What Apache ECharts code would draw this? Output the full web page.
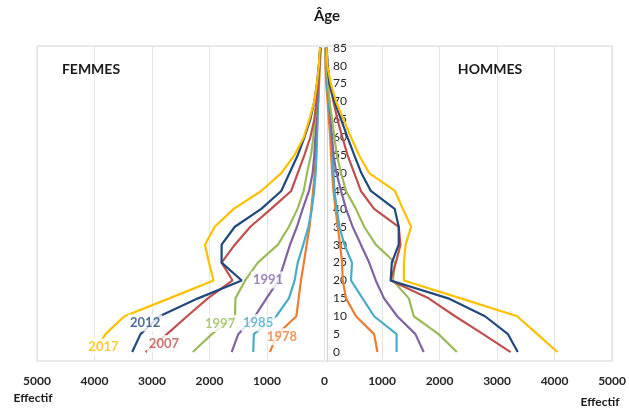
<!DOCTYPE html>
<html>
<head>
<meta charset="utf-8">
<script src="https://cdn.jsdelivr.net/npm/echarts@6/dist/echarts.min.js"></script>
<style>
  html, body { margin: 0; padding: 0; background: #fff; }
  #main { width: 629px; height: 408px; }
</style>
</head>
<body>
<div id="main"></div>
<script>
var myChart = echarts.init(document.getElementById('main'));

// tranches d'âge
var ages = [0, 5, 10, 15, 20, 25, 30, 35, 40, 45, 50, 55, 60, 65, 70, 75, 80, 85];
var years = ['1978', '1985', '1991', '1997', '2007', '2012', '2017'];

// effectifs femmes (négatifs = côté gauche)
var femmes1978 = [-950, -820, -490, -450, -410, -360, -310, -260, -230, -200, -170, -150, -140, -125, -110, -95, -80, -65];
var femmes1985 = [-1240, -1230, -840, -620, -520, -466, -370, -280, -220, -180, -155, -140, -130, -120, -110, -100, -90, -70];
var femmes1991 = [-1615, -1500, -1210, -1010, -800, -700, -600, -480, -380, -270, -207, -178, -161, -144, -127, -110, -98, -75];
var femmes1997 = [-2290, -1960, -1557, -1550, -1380, -1160, -810, -620, -470, -362, -305, -236, -195, -167, -138, -121, -98, -75];
var femmes2007 = [-3110, -2740, -2390, -2030, -1600, -1790, -1560, -1290, -930, -580, -466, -350, -247, -178, -138, -110, -90, -70];
var femmes2012 = [-3345, -3200, -2870, -2200, -1440, -1790, -1790, -1560, -1100, -753, -609, -466, -350, -247, -178, -132, -98, -75];
var femmes2017 = [-4000, -3810, -3480, -2700, -1930, -2010, -2080, -1910, -1580, -1100, -753, -523, -362, -264, -178, -132, -98, -80];

// effectifs hommes
var hommes1978 = [920, 862, 546, 374, 316, 305, 270, 230, 190, 155, 132, 115, 98, 75, 52, 29, 17, 15];
var hommes1985 = [1253, 1253, 862, 661, 460, 477, 345, 259, 213, 172, 155, 138, 126, 98, 69, 40, 23, 20];
var hommes1991 = [1724, 1580, 1264, 1034, 891, 776, 632, 489, 374, 287, 207, 155, 132, 103, 86, 52, 29, 25];
var hommes1997 = [2300, 1983, 1552, 1466, 1190, 1224, 891, 690, 546, 374, 287, 213, 172, 132, 86, 57, 29, 25];
var hommes2007 = [3236, 2758, 2270, 1810, 1150, 1240, 1320, 1290, 862, 632, 517, 400, 310, 224, 155, 86, 50, 35];
var hommes2012 = [3360, 3190, 2790, 2150, 1150, 1170, 1290, 1290, 1220, 805, 640, 517, 400, 287, 172, 86, 57, 35];
var hommes2017 = [4050, 3700, 3350, 2370, 1380, 1380, 1410, 1505, 1362, 1224, 776, 600, 460, 330, 200, 110, 50, 35];

var femmes = [femmes1978, femmes1985, femmes1991, femmes1997, femmes2007, femmes2012, femmes2017];
var hommes = [hommes1978, hommes1985, hommes1991, hommes1997, hommes2007, hommes2012, hommes2017];
var couleurs = ['#ED7D31', '#4BACC6', '#8064A2', '#9BBB59', '#C0504D', '#1F497D', '#FFC000'];

// emplacement des étiquettes d'année (effectif, âge)
var etiquettes = [[-741, 4.3], [-1155, 8.2], [-983, 20.1], [-1816, 8], [-2793, 2.4], [-3120, 8.1], [-3845, 1.4]];

var fontFam = 'Lato, "Open Sans", sans-serif';

function pairs(vals) {
    return vals.map(function (v, i) { return [v, ages[i]]; });
}

var series = [];
years.forEach(function (y, k) {
    series.push({
        name: y, type: 'line', data: pairs(femmes[k]), symbol: 'none',
        lineStyle: {color: couleurs[k], width: 2.2}, z: 2, silent: true
    });
    series.push({
        name: y, type: 'line', data: pairs(hommes[k]), symbol: 'none',
        lineStyle: {color: couleurs[k], width: 2.2}, z: 2, silent: true
    });
});
// étiquettes des années, fond blanc par-dessus les courbes
series.push({
    type: 'scatter', symbolSize: 0, z: 10, silent: true,
    data: etiquettes.map(function (p, k) {
        return {
            value: p,
            label: {
                show: true, position: 'inside', formatter: years[k],
                color: couleurs[k], fontWeight: 'bold', fontSize: 13, fontFamily: fontFam,
                backgroundColor: '#fff', padding: [2, 2]
            }
        };
    })
});

var titleStyle = function (size) {
    return {fontSize: size, fontWeight: 'bold', color: '#1a1a1a', fontFamily: fontFam};
};

var option = {
    animation: false,
    backgroundColor: '#fff',
    title: [
        {text: 'Âge', left: 327, top: 9, padding: 0, textAlign: 'center', textStyle: titleStyle(15)},
        {text: 'FEMMES', left: 91, top: 62, padding: 0, textAlign: 'center', textStyle: titleStyle(14)},
        {text: 'HOMMES', left: 490, top: 62, padding: 0, textAlign: 'center', textStyle: titleStyle(14)},
        {text: 'Effectif', left: 33, top: 392, padding: 0, textAlign: 'center', textStyle: titleStyle(12)},
        {text: 'Effectif', left: 600, top: 396, padding: 0, textAlign: 'center', textStyle: titleStyle(12)}
    ],
    grid: {
        left: 37, right: 12, top: 46, bottom: 47,
        show: true, borderColor: '#d4d4d4', borderWidth: 1
    },
    xAxis: {
        type: 'value', min: -5000, max: 5000, interval: 1000,
        axisLine: {show: false},
        axisTick: {show: false},
        splitLine: {show: true, lineStyle: {color: '#e4e4e4', width: 1}},
        axisLabel: {
            margin: 14, fontSize: 12, fontWeight: 'bold', color: '#262626', fontFamily: fontFam,
            formatter: function (v) { return Math.abs(v); }
        }
    },
    yAxis: {
        type: 'value', min: -2.5, max: 85.5,
        offset: -290,
        axisLine: {show: true, onZero: false, lineStyle: {color: '#d4d4d4'}},
        axisTick: {show: false},
        splitLine: {show: false},
        axisLabel: {
            inside: true, margin: 6, fontSize: 12, color: '#262626', fontFamily: fontFam,
            customValues: ages
        }
    },
    series: series
};
myChart.setOption(option);
</script>
</body>
</html>
